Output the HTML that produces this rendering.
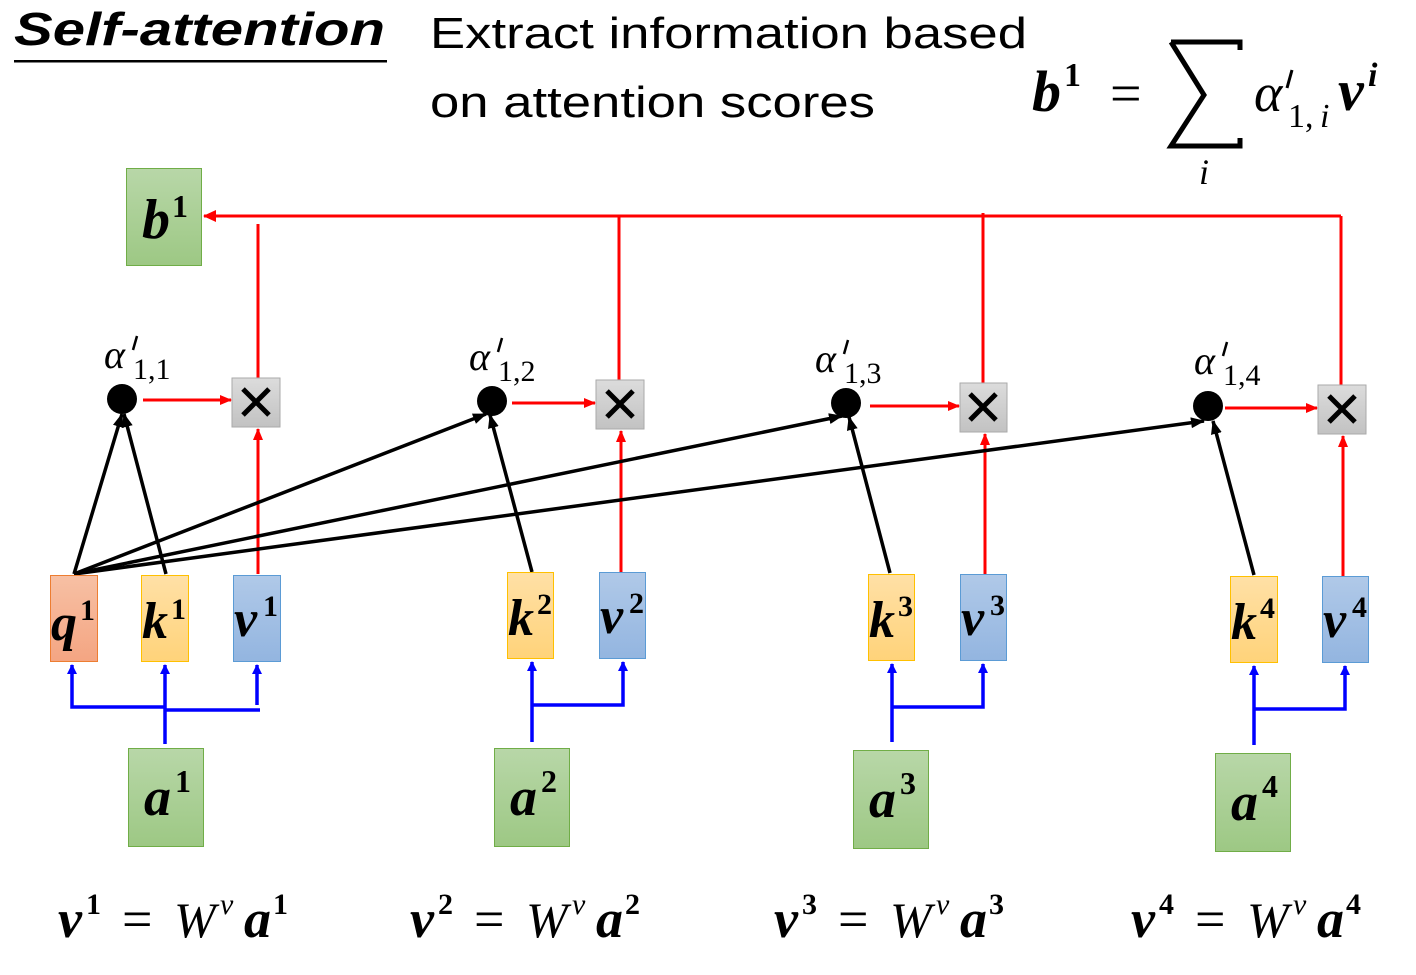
<!DOCTYPE html>
<html><head><meta charset="utf-8"><style>
html,body{margin:0;padding:0;background:#fff;width:1416px;height:975px;overflow:hidden}
svg{display:block}
.m{font-family:"Liberation Serif",serif;font-weight:bold;font-style:italic}
.s{font-family:"Liberation Serif",serif;font-style:italic}
.n{font-family:"Liberation Serif",serif}
</style></head><body>
<svg width="1416" height="975" viewBox="0 0 1416 975" xmlns="http://www.w3.org/2000/svg">
<defs>
<linearGradient id="gG" x1="0" y1="0" x2="0" y2="1"><stop offset="0" stop-color="#b8d7a8"/><stop offset="1" stop-color="#9dc884"/></linearGradient>
<linearGradient id="gO" x1="0" y1="0" x2="0" y2="1"><stop offset="0" stop-color="#f7c0a4"/><stop offset="1" stop-color="#f4a582"/></linearGradient>
<linearGradient id="gY" x1="0" y1="0" x2="0" y2="1"><stop offset="0" stop-color="#ffe0a6"/><stop offset="1" stop-color="#ffd37a"/></linearGradient>
<linearGradient id="gB" x1="0" y1="0" x2="0" y2="1"><stop offset="0" stop-color="#b0c9e8"/><stop offset="1" stop-color="#93b5e0"/></linearGradient>
<linearGradient id="gX" x1="0" y1="0" x2="0" y2="1"><stop offset="0" stop-color="#dcdcdc"/><stop offset="1" stop-color="#c2c2c2"/></linearGradient>
<marker id="ar" markerWidth="12" markerHeight="10" refX="11" refY="5" orient="auto" markerUnits="userSpaceOnUse"><path d="M0,0 L12,5 L0,10 z" fill="#f00"/></marker>
<marker id="ab" markerWidth="10" markerHeight="10" refX="9" refY="5" orient="auto" markerUnits="userSpaceOnUse"><path d="M0,0 L10,5 L0,10 z" fill="#00f"/></marker>
<marker id="ak" markerWidth="14" markerHeight="11" refX="13" refY="5.5" orient="auto" markerUnits="userSpaceOnUse"><path d="M0,0 L14,5.5 L0,11 z" fill="#000"/></marker>
<marker id="ar2" markerWidth="13" markerHeight="12" refX="12" refY="6" orient="auto" markerUnits="userSpaceOnUse"><path d="M0,0 L13,6 L0,12 z" fill="#f00"/></marker>
</defs>

<text x="14" y="45" font-family="'Liberation Sans',sans-serif" font-weight="bold" font-style="italic" font-size="46" textLength="371" lengthAdjust="spacingAndGlyphs">Self-attention</text>
<rect x="14" y="60" width="373" height="2.5" fill="#000"/>
<text x="430" y="48" font-family="'Liberation Sans',sans-serif" font-size="44" textLength="597" lengthAdjust="spacingAndGlyphs">Extract information based</text>
<text x="430" y="117" font-family="'Liberation Sans',sans-serif" font-size="44" textLength="445" lengthAdjust="spacingAndGlyphs">on attention scores</text>

<text x="1032" y="111" class="m" font-size="58">b</text>
<text x="1064" y="86" class="n" font-weight="bold" font-size="34">1</text>
<text x="1110" y="112" class="n" font-size="56">=</text>
<path d="M1171,42 L1240,42 L1240,50 M1171,42 L1204,95 L1171,146 L1240,146 L1240,138" fill="none" stroke="#000" stroke-width="5" stroke-linejoin="miter"/>
<text x="1199" y="184" class="s" font-size="36">i</text>
<text x="1254" y="111" class="s" font-size="54">α</text>
<path d="M1292,70 L1287,88" stroke="#000" stroke-width="3"/>
<text x="1288" y="127" class="n" font-size="34">1,</text>
<text x="1320" y="127" class="s" font-size="34">i</text>
<text x="1338" y="110" class="m" font-size="58">v</text>
<text x="1368" y="86" class="m" font-size="34">i</text>

<line x1="1341" y1="216" x2="204" y2="216" stroke="#f00" stroke-width="3" marker-end="url(#ar2)"/>
<line x1="258" y1="224" x2="258" y2="378" stroke="#f00" stroke-width="3"/>
<line x1="619" y1="216" x2="619" y2="380" stroke="#f00" stroke-width="3"/>
<line x1="983" y1="213" x2="983" y2="383" stroke="#f00" stroke-width="3"/>
<line x1="1341" y1="216" x2="1341" y2="385" stroke="#f00" stroke-width="3"/>

<rect x="126.5" y="168.5" width="75" height="97" fill="url(#gG)" stroke="#70ad47" stroke-width="1"/>
<text x="142" y="238" class="m" font-size="56">b</text>
<text x="172" y="217" class="n" font-weight="bold" font-size="32">1</text>

<rect x="232" y="378" width="48" height="49" fill="url(#gX)" stroke="#aaa"/>
<path d="M243,389 L269,415 M269,389 L243,415" stroke="#000" stroke-width="5"/>
<rect x="596" y="380" width="48" height="49" fill="url(#gX)" stroke="#aaa"/>
<path d="M607,391 L633,417 M633,391 L607,417" stroke="#000" stroke-width="5"/>
<rect x="960" y="383" width="47" height="49" fill="url(#gX)" stroke="#aaa"/>
<path d="M970,394 L996,420 M996,394 L970,420" stroke="#000" stroke-width="5"/>
<rect x="1318" y="385" width="48" height="49" fill="url(#gX)" stroke="#aaa"/>
<path d="M1329,396 L1355,422 M1355,396 L1329,422" stroke="#000" stroke-width="5"/>

<circle cx="122" cy="399" r="15" fill="#000"/>
<circle cx="492" cy="401" r="15" fill="#000"/>
<circle cx="846" cy="403" r="15" fill="#000"/>
<circle cx="1208" cy="406" r="15" fill="#000"/>

<line x1="143" y1="400" x2="231" y2="400" stroke="#f00" stroke-width="3" marker-end="url(#ar)"/>
<line x1="512" y1="403" x2="595" y2="403" stroke="#f00" stroke-width="3" marker-end="url(#ar)"/>
<line x1="870" y1="406" x2="959" y2="406" stroke="#f00" stroke-width="3" marker-end="url(#ar)"/>
<line x1="1225" y1="408" x2="1317" y2="408" stroke="#f00" stroke-width="3" marker-end="url(#ar)"/>

<line x1="258" y1="574" x2="258" y2="429" stroke="#f00" stroke-width="3" marker-end="url(#ar)"/>
<line x1="621" y1="572" x2="621" y2="431" stroke="#f00" stroke-width="3" marker-end="url(#ar)"/>
<line x1="985" y1="574" x2="985" y2="434" stroke="#f00" stroke-width="3" marker-end="url(#ar)"/>
<line x1="1343" y1="576" x2="1343" y2="436" stroke="#f00" stroke-width="3" marker-end="url(#ar)"/>

<g stroke="#000" stroke-width="3.5">
<line x1="74" y1="574" x2="122" y2="414" marker-end="url(#ak)"/>
<line x1="166" y1="574" x2="124" y2="414" marker-end="url(#ak)"/>
<line x1="74" y1="574" x2="486" y2="414" marker-end="url(#ak)"/>
<line x1="74" y1="574" x2="842" y2="416" marker-end="url(#ak)"/>
<line x1="74" y1="574" x2="1204" y2="421" marker-end="url(#ak)"/>
<line x1="532" y1="572" x2="490" y2="415" marker-end="url(#ak)"/>
<line x1="890" y1="573" x2="849" y2="417" marker-end="url(#ak)"/>
<line x1="1254" y1="575" x2="1213" y2="421" marker-end="url(#ak)"/>
</g>

<g>
<text x="104" y="368" class="s" font-size="40">α</text><path d="M137,336 L133,350" stroke="#000" stroke-width="2.5"/><text x="133" y="379" class="n" font-size="30">1,1</text>
<text x="469" y="370" class="s" font-size="40">α</text><path d="M502,338 L498,352" stroke="#000" stroke-width="2.5"/><text x="498" y="381" class="n" font-size="30">1,2</text>
<text x="815" y="372" class="s" font-size="40">α</text><path d="M848,340 L844,354" stroke="#000" stroke-width="2.5"/><text x="844" y="383" class="n" font-size="30">1,3</text>
<text x="1194" y="374" class="s" font-size="40">α</text><path d="M1227,342 L1223,356" stroke="#000" stroke-width="2.5"/><text x="1223" y="385" class="n" font-size="30">1,4</text>
</g>

<rect x="50.5" y="575.5" width="47" height="86" fill="url(#gO)" stroke="#ed7d31"/>
<text x="51" y="640" class="m" font-size="52">q</text><text x="80" y="620" class="n" font-weight="bold" font-size="30">1</text>
<rect x="141.5" y="575.5" width="47" height="86" fill="url(#gY)" stroke="#ffc000"/>
<text x="142" y="638" class="m" font-size="52">k</text><text x="171" y="619" class="n" font-weight="bold" font-size="30">1</text>
<rect x="233.5" y="575.5" width="47" height="86" fill="url(#gB)" stroke="#5b9bd5"/>
<text x="234" y="636" class="m" font-size="52">v</text><text x="263" y="616" class="n" font-weight="bold" font-size="30">1</text>

<rect x="507.5" y="572.5" width="46" height="86" fill="url(#gY)" stroke="#ffc000"/>
<text x="508" y="635" class="m" font-size="52">k</text><text x="537" y="614" class="n" font-weight="bold" font-size="30">2</text>
<rect x="599.5" y="572.5" width="46" height="86" fill="url(#gB)" stroke="#5b9bd5"/>
<text x="600" y="633" class="m" font-size="52">v</text><text x="629" y="613" class="n" font-weight="bold" font-size="30">2</text>

<rect x="868.5" y="574.5" width="46" height="86" fill="url(#gY)" stroke="#ffc000"/>
<text x="869" y="637" class="m" font-size="52">k</text><text x="898" y="616" class="n" font-weight="bold" font-size="30">3</text>
<rect x="960.5" y="574.5" width="46" height="86" fill="url(#gB)" stroke="#5b9bd5"/>
<text x="961" y="635" class="m" font-size="52">v</text><text x="990" y="615" class="n" font-weight="bold" font-size="30">3</text>

<rect x="1230.5" y="576.5" width="47" height="86" fill="url(#gY)" stroke="#ffc000"/>
<text x="1231" y="639" class="m" font-size="52">k</text><text x="1260" y="618" class="n" font-weight="bold" font-size="30">4</text>
<rect x="1322.5" y="576.5" width="46" height="86" fill="url(#gB)" stroke="#5b9bd5"/>
<text x="1323" y="637" class="m" font-size="52">v</text><text x="1352" y="617" class="n" font-weight="bold" font-size="30">4</text>

<g stroke="#00f" stroke-width="3.5" fill="none">
<line x1="165" y1="744" x2="165" y2="665" marker-end="url(#ab)"/>
<polyline points="165,707 72,707 72,665" marker-end="url(#ab)"/>
<polyline points="165,710 260,710"/>
<line x1="257" y1="705" x2="257" y2="665" marker-end="url(#ab)"/>
<line x1="532" y1="742" x2="532" y2="662" marker-end="url(#ab)"/>
<polyline points="532,705 623,705 623,662" marker-end="url(#ab)"/>
<line x1="892" y1="742" x2="892" y2="664" marker-end="url(#ab)"/>
<polyline points="892,707 983,707 983,664" marker-end="url(#ab)"/>
<line x1="1254" y1="745" x2="1254" y2="666" marker-end="url(#ab)"/>
<polyline points="1254,709 1345,709 1345,666" marker-end="url(#ab)"/>
</g>

<rect x="128.5" y="748.5" width="75" height="98" fill="url(#gG)" stroke="#70ad47"/>
<text x="144" y="815" class="m" font-size="54">a</text><text x="175" y="792" class="n" font-weight="bold" font-size="32">1</text>
<rect x="494.5" y="748.5" width="75" height="98" fill="url(#gG)" stroke="#70ad47"/>
<text x="510" y="815" class="m" font-size="54">a</text><text x="541" y="792" class="n" font-weight="bold" font-size="32">2</text>
<rect x="853.5" y="750.5" width="75" height="98" fill="url(#gG)" stroke="#70ad47"/>
<text x="869" y="817" class="m" font-size="54">a</text><text x="900" y="794" class="n" font-weight="bold" font-size="32">3</text>
<rect x="1215.5" y="753.5" width="75" height="98" fill="url(#gG)" stroke="#70ad47"/>
<text x="1231" y="820" class="m" font-size="54">a</text><text x="1262" y="797" class="n" font-weight="bold" font-size="32">4</text>

<g>
<text x="58" y="937" class="m" font-size="54">v</text><text x="86" y="914" class="n" font-weight="bold" font-size="30">1</text>
<text x="122" y="937" class="n" font-size="54">=</text>
<text x="174" y="937" class="s" font-size="50">W</text><text x="220" y="914" class="s" font-size="30">v</text>
<text x="244" y="937" class="m" font-size="54">a</text><text x="273" y="914" class="n" font-weight="bold" font-size="30">1</text>

<text x="410" y="937" class="m" font-size="54">v</text><text x="438" y="914" class="n" font-weight="bold" font-size="30">2</text>
<text x="474" y="937" class="n" font-size="54">=</text>
<text x="526" y="937" class="s" font-size="50">W</text><text x="572" y="914" class="s" font-size="30">v</text>
<text x="596" y="937" class="m" font-size="54">a</text><text x="625" y="914" class="n" font-weight="bold" font-size="30">2</text>

<text x="774" y="937" class="m" font-size="54">v</text><text x="802" y="914" class="n" font-weight="bold" font-size="30">3</text>
<text x="838" y="937" class="n" font-size="54">=</text>
<text x="890" y="937" class="s" font-size="50">W</text><text x="936" y="914" class="s" font-size="30">v</text>
<text x="960" y="937" class="m" font-size="54">a</text><text x="989" y="914" class="n" font-weight="bold" font-size="30">3</text>

<text x="1131" y="937" class="m" font-size="54">v</text><text x="1159" y="914" class="n" font-weight="bold" font-size="30">4</text>
<text x="1195" y="937" class="n" font-size="54">=</text>
<text x="1247" y="937" class="s" font-size="50">W</text><text x="1293" y="914" class="s" font-size="30">v</text>
<text x="1317" y="937" class="m" font-size="54">a</text><text x="1346" y="914" class="n" font-weight="bold" font-size="30">4</text>
</g>
</svg>
</body></html>
